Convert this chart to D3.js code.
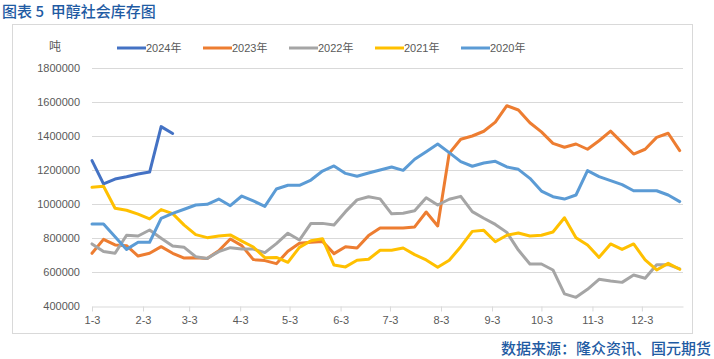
<!DOCTYPE html>
<html>
<head>
<meta charset="utf-8">
<script src="https://cdn.jsdelivr.net/npm/d3@7"></script>
<style>
  html, body { margin: 0; padding: 0; background: #fff; }
  svg { display: block; }
</style>
</head>
<body>
<div id="chart"></div>
<script>
// ---------------- DATA ----------------
const weekDates = ["01-03","01-10","01-17","01-24","01-31","02-07","02-14","02-21","02-28",
  "03-07","03-14","03-21","03-28","04-04","04-11","04-18","04-25","05-02","05-09","05-16",
  "05-23","05-30","06-06","06-13","06-20","06-27","07-04","07-11","07-18","07-25","08-01",
  "08-08","08-15","08-22","08-29","09-05","09-12","09-19","09-26","10-03","10-10","10-17",
  "10-24","10-31","11-07","11-14","11-21","11-28","12-05","12-12","12-19","12-26"];

const seriesNames = ["2024年","2023年","2022年","2021年","2020年"];

const s2024 = [1255000,1118000,1147000,1160000,1176000,1188000,1455000,1415000];

const s2023 = [710000,792000,759000,755000,694000,710000,749000,710000,682000,684000,
  680000,725000,794000,755000,673000,667000,649000,722000,769000,775000,
  780000,708000,749000,741000,814000,859000,859000,859000,865000,953000,
  871000,1298000,1381000,1400000,1428000,1482000,1578000,1553000,1478000,1424000,
  1357000,1334000,1353000,1322000,1372000,1429000,1361000,1294000,1322000,1392000,
  1416000,1314000];

const s2022 = [765000,720000,710000,816000,812000,847000,798000,753000,745000,690000,
  680000,720000,743000,735000,735000,714000,767000,828000,788000,886000,
  886000,876000,955000,1024000,1043000,1030000,942000,946000,960000,1037000,
  994000,1028000,1045000,955000,916000,880000,833000,729000,647000,647000,
  612000,471000,451000,498000,557000,547000,539000,582000,563000,643000,
  643000,618000];

const s2021 = [1098000,1104000,975000,963000,940000,912000,967000,943000,876000,820000,
  802000,812000,818000,782000,747000,684000,686000,657000,745000,784000,
  796000,641000,630000,669000,675000,728000,728000,741000,702000,671000,
  628000,669000,749000,839000,845000,778000,816000,829000,812000,816000,
  835000,919000,802000,759000,686000,765000,733000,765000,671000,612000,
  651000,616000];

const s2020 = [882000,882000,808000,733000,775000,775000,916000,945000,969000,994000,
  998000,1029000,990000,1047000,1018000,986000,1088000,1110000,1110000,1141000,
  1194000,1224000,1180000,1163000,1182000,1200000,1218000,1198000,1263000,1308000,
  1353000,1302000,1249000,1222000,1241000,1251000,1218000,1204000,1151000,1076000,
  1043000,1029000,1053000,1196000,1161000,1137000,1114000,1078000,1078000,1078000,
  1053000,1014000];

const xTickLabels = ["1-3","2-3","3-3","4-3","5-3","6-3","7-3","8-3","9-3","10-3","11-3","12-3"];
const yTickValues = [400000,600000,800000,1000000,1200000,1400000,1600000,1800000];

const titleText = "图表 5  甲醇社会库存图";
const unitText = "吨";
const sourceText = "数据来源：隆众资讯、国元期货";

// ---------------- STYLE ----------------
const colors = ["#4472C4","#ED7D31","#A5A5A5","#FFC000","#5B9BD5"];
const W = 714, H = 359;
const plot = { left: 92, right: 683, top: 68, bottom: 306 };
const YEAR = 2023;

const toDate = s => { const p = s.split("-").map(Number); return new Date(YEAR, p[0]-1, p[1]); };
const dates = weekDates.map(toDate);
const tickDates = xTickLabels.map(toDate);

const svg = d3.select("#chart").append("svg")
  .attr("width", W).attr("height", H)
  .style("font-family", "'Liberation Sans', Arial, sans-serif");

svg.append("rect").attr("width", W).attr("height", H).attr("fill", "#fff");

// chart border
svg.append("rect")
  .attr("x", 12.5).attr("y", 24.5).attr("width", 680).attr("height", 309)
  .attr("fill", "none").attr("stroke", "#D9D9D9").attr("stroke-width", 1);

// title
svg.append("text").attr("x", 2).attr("y", 17)
  .attr("font-family", "'Noto Sans CJK SC', sans-serif")
  .attr("font-size", 15).attr("fill", "#1F5BA3").attr("font-weight", 500)
  .attr("xml:space", "preserve")
  .text(titleText);

// source
svg.append("text").attr("x", 711).attr("y", 354).attr("text-anchor", "end")
  .attr("font-family", "'Noto Sans CJK SC', sans-serif")
  .attr("font-size", 15).attr("fill", "#1F5BA3").attr("font-weight", 500)
  .text(sourceText);

const x = d3.scaleTime()
  .domain([new Date(YEAR, 0, 3), new Date(YEAR, 11, 28)])
  .range([plot.left, plot.right]);
const y = d3.scaleLinear().domain([400000, 1800000]).range([plot.bottom, plot.top]);

// gridlines
svg.append("g").selectAll("line").data(yTickValues.filter(v => v > 400000)).join("line")
  .attr("x1", plot.left).attr("x2", plot.right)
  .attr("y1", d => Math.round(y(d)) + 0.5).attr("y2", d => Math.round(y(d)) + 0.5)
  .attr("stroke", "#D9D9D9").attr("stroke-width", 1);

// y axis
const yAxis = svg.append("g").attr("transform", `translate(${plot.left},0)`)
  .call(d3.axisLeft(y).tickValues(yTickValues).tickSize(0).tickPadding(12).tickFormat(d3.format("d")));
yAxis.select(".domain").remove();
yAxis.selectAll("text").attr("font-size", 11).attr("fill", "#595959")
  .attr("font-family", "'Liberation Sans', Arial, sans-serif");

// x axis
const xAxis = svg.append("g").attr("transform", `translate(0,${Math.round(plot.bottom) + 0.5})`)
  .call(d3.axisBottom(x).tickValues(tickDates).tickFormat((d, i) => xTickLabels[i])
    .tickSizeInner(5).tickSizeOuter(0).tickPadding(5));
xAxis.select(".domain").attr("stroke", "#D9D9D9");
xAxis.selectAll(".tick line").attr("stroke", "#D9D9D9");
xAxis.selectAll("text").attr("font-size", 11).attr("fill", "#595959")
  .attr("font-family", "'Liberation Sans', Arial, sans-serif");

// unit
svg.append("text").attr("x", 55).attr("y", 51).attr("text-anchor", "middle")
  .attr("font-family", "'Noto Sans CJK SC', sans-serif")
  .attr("font-size", 12).attr("fill", "#595959").text(unitText);

// lines
const allSeries = [s2024, s2023, s2022, s2021, s2020];
const line = d3.line().x((d, i) => x(dates[i])).y(d => y(d));
allSeries.forEach((s, k) => {
  svg.append("path").datum(s)
    .attr("d", line)
    .attr("fill", "none").attr("stroke", colors[k]).attr("stroke-width", 3)
    .attr("stroke-linejoin", "round").attr("stroke-linecap", "round");
});

// legend
const lg = svg.append("g");
seriesNames.forEach((name, k) => {
  const x0 = 117 + k * 86;
  lg.append("line").attr("x1", x0).attr("x2", x0 + 29).attr("y1", 48).attr("y2", 48)
    .attr("stroke", colors[k]).attr("stroke-width", 3);
  lg.append("text").attr("x", x0 + 29).attr("y", 52)
    .attr("font-size", 11).attr("fill", "#595959")
    .attr("font-family", "'Liberation Sans', 'Noto Sans CJK SC', sans-serif")
    .text(name);
});
</script>
</body>
</html>
